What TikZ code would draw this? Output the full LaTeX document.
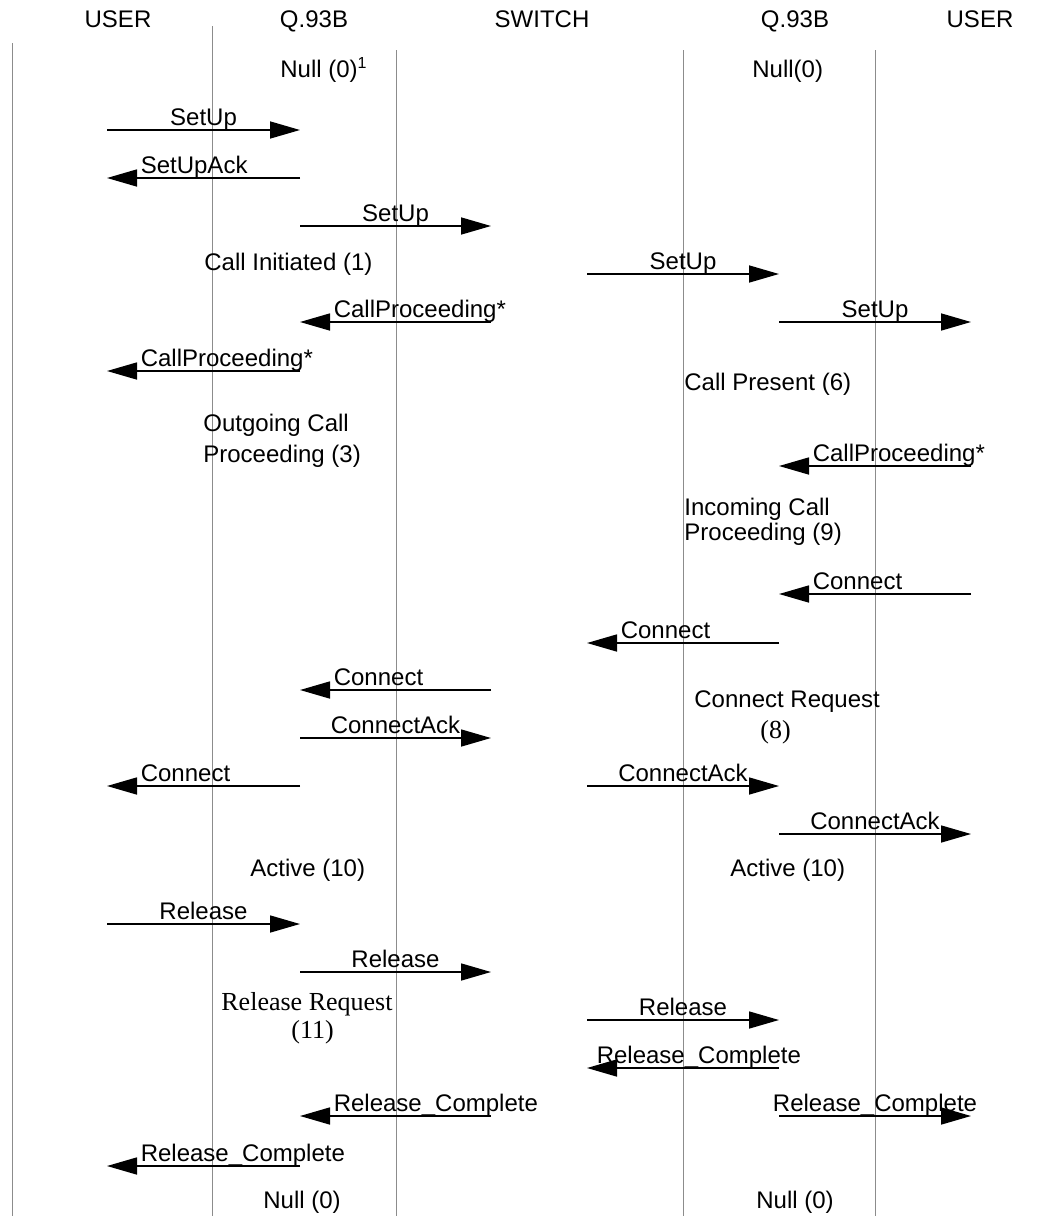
\documentclass[tikz,border=0pt]{standalone}
\usepackage{fontspec}
\setmainfont{Liberation Sans}
\newfontfamily\timesfont{Liberation Serif}
\usetikzlibrary{arrows.meta}
\tikzset{
  lifeline/.style = {black!45, line width=0.5pt},
  msgline/.style  = {-{Triangle[length=15pt, width=8.5pt]}, line width=0.8pt, black},
  lbl/.style      = {font=\fontsize{12}{14}\selectfont, inner sep=0pt},
  rlbl/.style     = {lbl, anchor=base, yshift=2.5pt},
  llbl/.style     = {lbl, anchor=base west, yshift=2.5pt},
  state/.style    = {lbl, anchor=base west},
  sstate/.style   = {state, font=\timesfont\fontsize{13}{15}\selectfont},
  head/.style     = {lbl, anchor=base},
}
% message to the right: name, y, from x, to x, label
\newcommand{\msgright}[5]{%
  \coordinate (#1-from) at (#3,#2);
  \coordinate (#1-to) at (#4,#2);
  \draw[msgline] (#1-from) -- (#1-to) node[midway, rlbl] {#5};}
% message to the left: [label offset], name, y, from x, to x, label
\newcommand{\msgleft}[6][16.5pt]{%
  \coordinate (#2-from) at (#4,#3);
  \coordinate (#2-to) at (#5,#3);
  \draw[msgline] (#2-from) -- (#2-to) node[pos=1, llbl, xshift=#1] {#6};}

\begin{document}
\begin{tikzpicture}[x=0.5pt,y=-0.5pt]
  \useasboundingbox (0,0) rectangle (1064,1216);

  % headers
  \node[head] (hUserL)   at (118,27) {USER};
  \node[head] (hQL)      at (314,27) {Q.93B};
  \node[head] (hSwitch)  at (542,27) {SWITCH};
  \node[head] (hQR)      at (795,27) {Q.93B};
  \node[head] (hUserR)   at (980,27) {USER};

  % lifelines
  \draw[lifeline] (12,43)  -- (12,1216);
  \draw[lifeline] (212,26) -- (212,1216);
  \draw[lifeline] (396,50) -- (396,1216);
  \draw[lifeline] (683,50) -- (683,1216);
  \draw[lifeline] (875,50) -- (875,1216);

  % states
  \node[state] (nullL)  at (280,77) {Null (0)\textsuperscript{1}};
  \node[state] (nullR)  at (752,77) {Null(0)};
  \node[state] (initL)  at (204,270) {Call Initiated (1)};
  \node[state] (presR)  at (684,390) {Call Present (6)};
  \node[state] (outL1)  at (203,431) {Outgoing Call};
  \node[state] (outL2)  at (203,462) {Proceeding (3)};
  \node[state] (incR1)  at (684,515) {Incoming Call};
  \node[state] (incR2)  at (684,540) {Proceeding (9)};
  \node[state] (conR1)  at (694,707) {Connect Request};
  \node[sstate] (conR2) at (760,738) {(8)};
  \node[state] (actL)   at (250,876) {Active (10)};
  \node[state] (actR)   at (730,876) {Active (10)};
  \node[sstate] (relL1) at (221,1010) {Release Request};
  \node[sstate] (relL2) at (291,1038) {(11)};
  \node[state] (endL)   at (263,1208) {Null (0)};
  \node[state] (endR)   at (756,1208) {Null (0)};

  % call set up
  \msgright{su1}{130}{107}{300}{SetUp}
  \msgleft{sua}{178}{300}{107}{SetUpAck}
  \msgright{su2}{226}{300}{491}{SetUp}
  \msgright{su3}{274}{587}{779}{SetUp}
  \msgright{su4}{322}{779}{971}{SetUp}
  \msgleft{cp1}{322}{491}{300}{CallProceeding*}
  \msgleft{cp2}{371}{300}{107}{CallProceeding*}
  \msgleft{cp3}{466}{971}{779}{CallProceeding*}

  % connect
  \msgleft{cn1}{594}{971}{779}{Connect}
  \msgleft{cn2}{643}{779}{587}{Connect}
  \msgleft{cn3}{690}{491}{300}{Connect}
  \msgright{ca1}{738}{300}{491}{ConnectAck}
  \msgleft{cn4}{786}{300}{107}{Connect}
  \msgright{ca2}{786}{587}{779}{ConnectAck}
  \msgright{ca3}{834}{779}{971}{ConnectAck}

  % release
  \msgright{rl1}{924}{107}{300}{Release}
  \msgright{rl2}{972}{300}{491}{Release}
  \msgright{rl3}{1020}{587}{779}{Release}
  \msgleft[4.5pt]{rc1}{1068}{779}{587}{Release\_Complete}
  \msgleft{rc2}{1116}{491}{300}{Release\_Complete}
  \msgright{rc3}{1116}{779}{971}{Release\_Complete}
  \msgleft{rc4}{1166}{300}{107}{Release\_Complete}
\end{tikzpicture}
\end{document}
